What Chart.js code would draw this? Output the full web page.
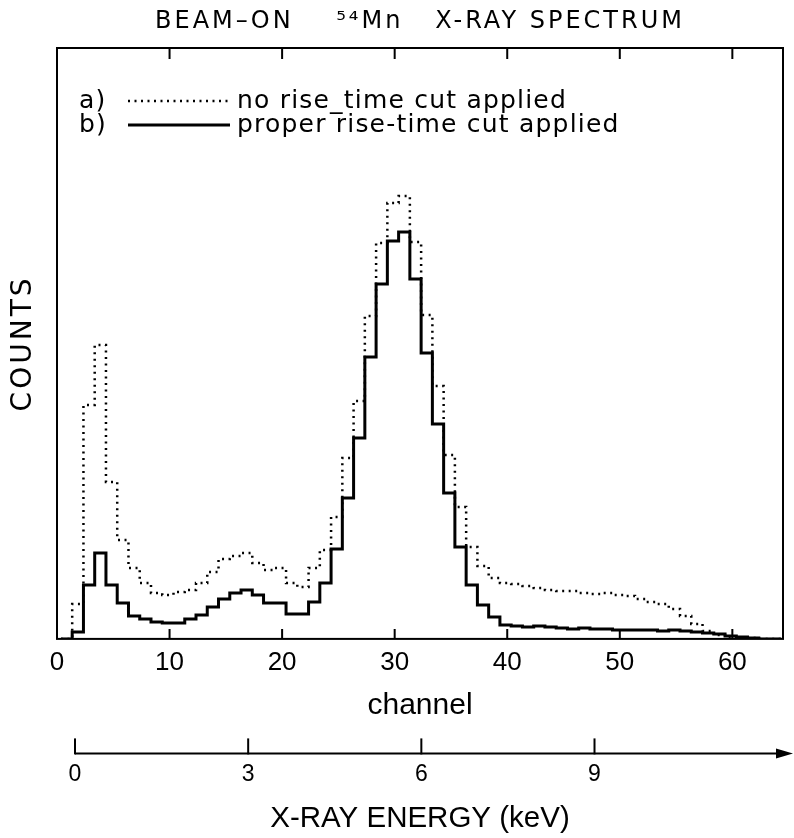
<!DOCTYPE html>
<html>
<head>
<meta charset="utf-8">
<script src="https://cdn.jsdelivr.net/npm/chart.js@4.4.1/dist/chart.umd.min.js"></script>
<style>
    html, body { margin: 0; padding: 0; background: #fff; }
    #wrap { width: 794px; height: 838px; }
</style>
</head>
<body>
<div id="wrap"><canvas id="spectrum"></canvas></div>
<script>
// tick labels of the two horizontal axes
var channelTicks = [0, 10, 20, 30, 40, 50, 60];
var energyTicks = [0, 3, 6, 9];
var channelMax = 64.5;
var countsMax = 591;
var zeroChannel = 1.6;
var keVPerChannel = 0.195;
// left edge of the first bin, in channels
var firstBin = 0.35;

var seriesTags = ['a)', 'b)'];
var seriesNames = ['no rise_time cut applied', 'proper rise-time cut applied'];

// counts per bin (arbitrary units), one value per channel
var noCut = [0, 35, 234, 294, 157, 99, 71, 56, 46, 44,
    47, 49, 56, 67, 80, 83, 86, 76, 69, 71,
    56, 52, 71, 89, 122, 181, 238, 323, 396, 436,
    443, 397, 324, 253, 184, 132, 92, 73, 61, 56,
    55, 53, 51, 49, 48, 48, 46, 45, 46, 44,
    43, 40, 37, 35, 30, 23, 15, 8, 4, 2,
    1, 1, 0, 0];
var withCut = [0, 7, 54, 86, 54, 36, 23, 20, 17, 16,
    16, 20, 24, 32, 40, 46, 49, 44, 36, 36,
    25, 25, 37, 56, 90, 141, 201, 282, 355, 398,
    407, 360, 286, 215, 146, 92, 54, 34, 22, 14,
    13, 12, 13, 12, 11, 10, 11, 10, 10, 9,
    9, 9, 9, 8, 9, 8, 7, 6, 5, 3,
    2, 1, 0, 0];

var sansWide = '"DejaVu Sans"';
var sansPlain = '"Liberation Sans", Arial, sans-serif';

function toSteps(values) {
    var pts = values.map(function (v, i) {
        return {x: firstBin + i, y: v};
    });
    pts.push({x: firstBin + values.length, y: values[values.length - 1]});
    return pts;
}

var decor = {
    id: 'decor',
    // title and COUNTS are drawn in the first layers, spaced out
    beforeDraw: function (chart) {
        chart.ctx.letterSpacing = '3px';
    },
    beforeDatasetsDraw: function (chart) {
        chart.ctx.letterSpacing = '0px';
    },
    afterDraw: function (chart) {
        var ctx = chart.ctx;
        var area = chart.chartArea;
        var xs = chart.scales.x;
        var es = chart.scales.x2;
        ctx.save();
        ctx.strokeStyle = '#000';
        ctx.fillStyle = '#000';
        ctx.lineWidth = 2;
        ctx.strokeRect(area.left, area.top, area.right - area.left, area.bottom - area.top);

        // inward ticks on top and bottom edge
        channelTicks.forEach(function (c) {
            if (c <= xs.min) return;
            var px = xs.getPixelForValue(c);
            ctx.beginPath();
            ctx.moveTo(px, area.top);
            ctx.lineTo(px, area.top + 11);
            ctx.moveTo(px, area.bottom);
            ctx.lineTo(px, area.bottom - 10);
            ctx.stroke();
        });

        // energy axis with arrow
        var ey = es.top + 5;
        var ex0 = es.getPixelForValue(energyTicks[0]);
        var ex1 = area.right + 10;
        ctx.beginPath();
        ctx.moveTo(ex0, ey);
        ctx.lineTo(ex1 - 12, ey);
        ctx.stroke();
        ctx.beginPath();
        ctx.moveTo(ex1, ey);
        ctx.lineTo(ex1 - 17, ey - 5);
        ctx.lineTo(ex1 - 17, ey + 5);
        ctx.closePath();
        ctx.fill();
        energyTicks.forEach(function (v) {
            var px = es.getPixelForValue(v);
            ctx.beginPath();
            ctx.moveTo(px, ey + 1);
            ctx.lineTo(px, ey - 15);
            ctx.stroke();
        });

        // legend inside the frame
        ctx.font = '25px ' + sansWide;
        ctx.letterSpacing = '1.2px';
        ctx.textBaseline = 'alphabetic';
        chart.data.datasets.forEach(function (ds, i) {
            var by = area.top + 60 + i * 24;
            ctx.fillText(seriesTags[i], area.left + 22, by);
            ctx.beginPath();
            ctx.lineWidth = ds.borderWidth;
            ctx.setLineDash(ds.borderDash || []);
            ctx.moveTo(area.left + 71, by - 7);
            ctx.lineTo(area.left + 173, by - 7);
            ctx.stroke();
            ctx.setLineDash([]);
            ctx.fillText(ds.label, area.left + 180, by);
        });
        ctx.letterSpacing = '0px';
        ctx.restore();
    }
};

Chart.defaults.font.family = sansWide;
Chart.defaults.color = '#000';

var mychart = new Chart(document.getElementById('spectrum'), {
    type: 'line',
    data: {
        datasets: [{
                label: seriesNames[0],
                data: toSteps(noCut),
                stepped: 'before',
                borderColor: '#000',
                borderWidth: 2.5,
                borderDash: [2, 4.5],
                pointRadius: 0,
                fill: false
            }, {
                label: seriesNames[1],
                data: toSteps(withCut),
                stepped: 'before',
                borderColor: '#000',
                borderWidth: 3,
                pointRadius: 0,
                fill: false
            }
        ]
    },
    options: {
        responsive: true,
        maintainAspectRatio: false,
        animation: false,
        layout: {padding: {left: 0, right: 11, top: 0, bottom: 0}},
        plugins: {
            legend: {display: false},
            tooltip: {enabled: false},
            title: {
                display: true,
                fullSize: false,
                text: 'BEAM–ON    \u2075\u2074Mn   X-RAY SPECTRUM',
                font: {size: 24, weight: 'normal', family: sansWide},
                color: '#000',
                padding: {top: 7.6, bottom: 11.6}
            }
        },
        scales: {
            x: {
                type: 'linear',
                position: 'bottom',
                weight: 0,
                min: 0,
                max: channelMax,
                grid: {display: false, drawTicks: false, z: 1},
                border: {display: false},
                afterBuildTicks: function (s) {
                    s.ticks = channelTicks.map(function (v) { return {value: v}; });
                },
                ticks: {padding: 8, z: 1, font: {size: 26, family: sansPlain}, color: '#000', maxRotation: 0, autoSkip: false},
                title: {
                    display: true,
                    text: 'channel',
                    font: {size: 30, family: sansPlain},
                    color: '#000',
                    padding: {top: 1.4, bottom: 24.9}
                }
            },
            x2: {
                type: 'linear',
                position: 'bottom',
                weight: 1,
                min: (0 - zeroChannel) * keVPerChannel,
                max: (channelMax - zeroChannel) * keVPerChannel,
                grid: {display: false, drawTicks: false, z: 1},
                border: {display: false},
                afterBuildTicks: function (s) {
                    s.ticks = energyTicks.map(function (v) { return {value: v}; });
                },
                ticks: {padding: 12.7, z: 1, font: {size: 23, family: sansPlain}, color: '#000', maxRotation: 0, autoSkip: false},
                title: {
                    display: true,
                    text: 'X-RAY ENERGY (keV)',
                    font: {size: 29.5, family: sansPlain},
                    color: '#000',
                    padding: {top: 0, bottom: 1.2}
                }
            },
            y: {
                min: 0,
                max: countsMax,
                grid: {display: false, drawTicks: false},
                border: {display: false},
                ticks: {display: false},
                title: {
                    display: true,
                    text: 'COUNTS',
                    font: {size: 28, family: sansWide},
                    color: '#000',
                    padding: {top: 6.5, bottom: 16.9}
                }
            }
        }
    },
    plugins: [decor]
});
</script>
</body>
</html>
